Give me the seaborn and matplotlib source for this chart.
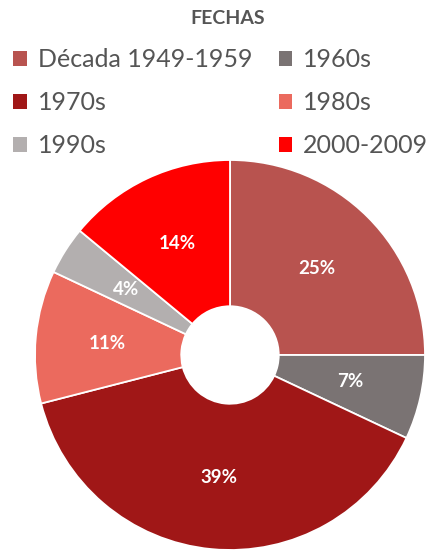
# Gráfico de dona: fechas por década
import matplotlib
matplotlib.use("Agg")
import matplotlib.pyplot as plt
from matplotlib.patches import Patch
import seaborn as sns

# Datos
categorias = ["Década 1949-1959", "1960s", "1970s", "1980s", "1990s", "2000-2009"]
porcentajes = [25, 7, 39, 11, 4, 14]
colores = ["#B8534F", "#7A7373", "#A01717", "#EB6A5E", "#B3AFAF", "#FF0000"]

sns.set_theme(style="white")
plt.rcParams["font.family"] = ["Lato", "DejaVu Sans"]

fig = plt.figure(figsize=(4.31, 5.5), dpi=100)
ax = fig.add_axes([35 / 431, 0.0, 390 / 431, 390 / 550])

wedges, textos, autotextos = ax.pie(
    porcentajes,
    colors=colores,
    startangle=90,
    counterclock=False,
    autopct="%.0f%%",
    pctdistance=0.63,
    wedgeprops=dict(width=0.75, edgecolor="white", linewidth=1.3),
    textprops=dict(color="white", fontsize=13.5, fontweight="bold"),
)
ax.set_xlim(-1, 1)
ax.set_ylim(-1, 1)
ax.set_aspect("equal")

# Leyenda en filas (se reordena porque matplotlib llena por columnas)
orden = [0, 2, 4, 1, 3, 5]
handles = [Patch(facecolor=colores[i], edgecolor="none") for i in orden]
labels = [categorias[i] for i in orden]
leg = fig.legend(
    handles, labels,
    loc="upper left", bbox_to_anchor=(13 / 431, 1 - 48 / 550),
    ncol=2, frameon=False, fontsize=18,
    borderpad=0, borderaxespad=0,
    handlelength=0.54, handleheight=0.54, handletextpad=0.45,
    labelspacing=0.8, columnspacing=1.05,
)
for t in leg.get_texts():
    t.set_color("#555555")

fig.text(228 / 431, 1 - 19 / 550, "FECHAS", ha="center", va="center",
         fontsize=14, fontweight="bold", color="#555555")

plt.savefig("out.png", dpi=100)
